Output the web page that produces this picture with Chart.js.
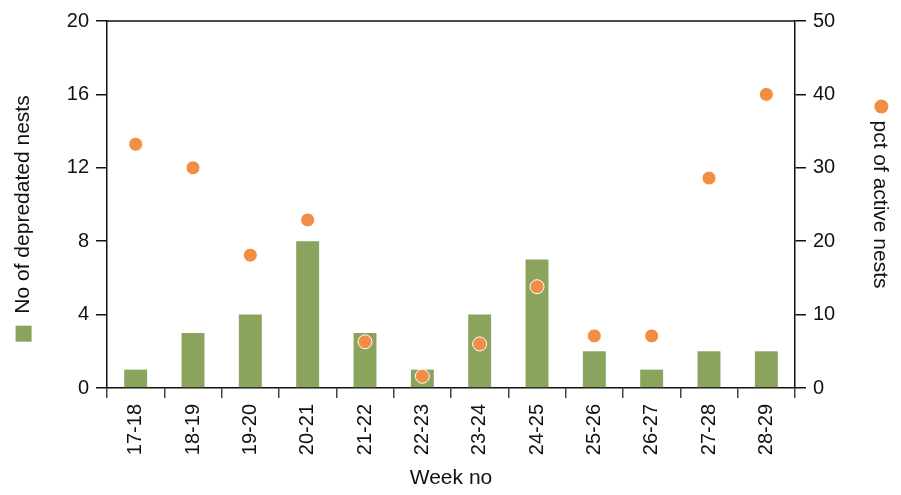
<!DOCTYPE html>
<html>
<head>
<meta charset="utf-8">
<script src="https://cdn.jsdelivr.net/npm/chart.js@4/dist/chart.umd.min.js"></script>
<style>
  html, body { margin: 0; padding: 0; background: #fff; }
  #wrap { width: 901px; height: 495px; position: relative; }
</style>
</head>
<body>
<div id="wrap"><canvas id="c"></canvas></div>
<script>
const weeks = ['17-18','18-19','19-20','20-21','21-22','22-23','23-24','24-25','25-26','26-27','27-28','28-29'];
const depredatedNests = [1, 3, 4, 8, 3, 1, 4, 7, 2, 1, 2, 2];
const pctActiveNests = [33.2, 30.0, 18.1, 22.9, 6.3, 1.6, 6.0, 13.8, 7.1, 7.1, 28.6, 40.0];
const leftTicks = [0, 4, 8, 12, 16, 20];
const rightTicks = [0, 10, 20, 30, 40, 50];

const GREEN = '#8aa35d';
const ORANGE = '#f28e43';
const INK = '#111111';
const FAMILY = 'Liberation Sans, Arial, sans-serif';
const TICK_FONT = { family: FAMILY, size: 20 };
const TITLE_FONT = { family: FAMILY, size: 21 };

const leftTitle = 'No of depredated nests';
const rightTitle = 'pct of active nests';

const decor = {
  id: 'decor',
  afterDraw(chart) {
    const ctx = chart.ctx;
    const a = chart.chartArea;
    ctx.save();
    // top border
    ctx.strokeStyle = INK;
    ctx.lineWidth = 1.5;
    ctx.beginPath();
    ctx.moveTo(a.left, a.top);
    ctx.lineTo(a.right, a.top);
    ctx.stroke();
    // legend markers next to axis titles
    ctx.font = TITLE_FONT.size + 'px ' + FAMILY;
    const cy = (a.top + a.bottom) / 2;
    const wl = ctx.measureText(leftTitle).width;
    const wr = ctx.measureText(rightTitle).width;
    const half = TITLE_FONT.size * 1.2 / 2;
    const lx = chart.scales.y.left + chart.options.scales.y.title.padding.top + half;
    ctx.fillStyle = GREEN;
    const sq = 16;
    const ly = cy + wl / 2 + 12;
    ctx.fillRect(lx - sq / 2, ly, sq, sq);
    const rx = chart.scales.y1.right - chart.options.scales.y1.title.padding.top - half + 2;
    const ry = cy - wr / 2 - 14;
    ctx.fillStyle = ORANGE;
    ctx.beginPath();
    ctx.arc(rx, ry, 7, 0, Math.PI * 2);
    ctx.fill();
    ctx.restore();
  }
};

new Chart(document.getElementById('c'), {
  data: {
    labels: weeks,
    datasets: [
      {
        type: 'line',
        label: rightTitle,
        data: pctActiveNests,
        yAxisID: 'y1',
        showLine: false,
        pointRadius: 7,
        pointHoverRadius: 7,
        pointBackgroundColor: ORANGE,
        pointBorderColor: '#ffffff',
        pointBorderWidth: 1,
        order: 0
      },
      {
        type: 'bar',
        label: leftTitle,
        data: depredatedNests,
        yAxisID: 'y',
        backgroundColor: GREEN,
        barPercentage: 0.8,
        categoryPercentage: 0.5,
        order: 1
      }
    ]
  },
  options: {
    responsive: true,
    maintainAspectRatio: false,
    animation: false,
    layout: { padding: { top: 21, left: 0, right: 0, bottom: 0 } },
    plugins: { legend: { display: false }, tooltip: { enabled: false } },
    scales: {
      x: {
        type: 'category',
        offset: true,
        afterFit(s) { s.height = 107; },
        grid: { offset: true, drawOnChartArea: false, tickLength: 10, color: '#444', lineWidth: 1.5 },
        border: { color: INK, width: 1.5 },
        ticks: { color: INK, font: TICK_FONT, minRotation: 90, maxRotation: 90, padding: 6, autoSkip: false },
        title: { display: true, text: 'Week no', color: INK, font: TITLE_FONT, padding: { top: 1, bottom: 4 } }
      },
      y: {
        type: 'linear',
        position: 'left',
        min: 0, max: 20,
        afterFit(s) { s.width = 107; },
        afterBuildTicks(s) { s.ticks = leftTicks.map(v => ({ value: v })); },
        grid: { drawOnChartArea: false, tickLength: 11, color: INK, lineWidth: 1.5 },
        border: { color: INK, width: 1.5 },
        ticks: { color: INK, font: TICK_FONT, padding: 7 },
        title: { display: true, text: leftTitle, color: INK, font: TITLE_FONT, padding: { top: 11, bottom: 4 } }
      },
      y1: {
        type: 'linear',
        position: 'right',
        min: 0, max: 50,
        afterFit(s) { s.width = 106; },
        afterBuildTicks(s) { s.ticks = rightTicks.map(v => ({ value: v })); },
        grid: { drawOnChartArea: false, tickLength: 11, color: INK, lineWidth: 1.5 },
        border: { color: INK, width: 1.5 },
        ticks: { color: INK, font: TICK_FONT, padding: 7 },
        title: { display: true, text: rightTitle, color: INK, font: TITLE_FONT, padding: { top: 9, bottom: 4 } }
      }
    }
  },
  plugins: [decor]
});
</script>
</body>
</html>
